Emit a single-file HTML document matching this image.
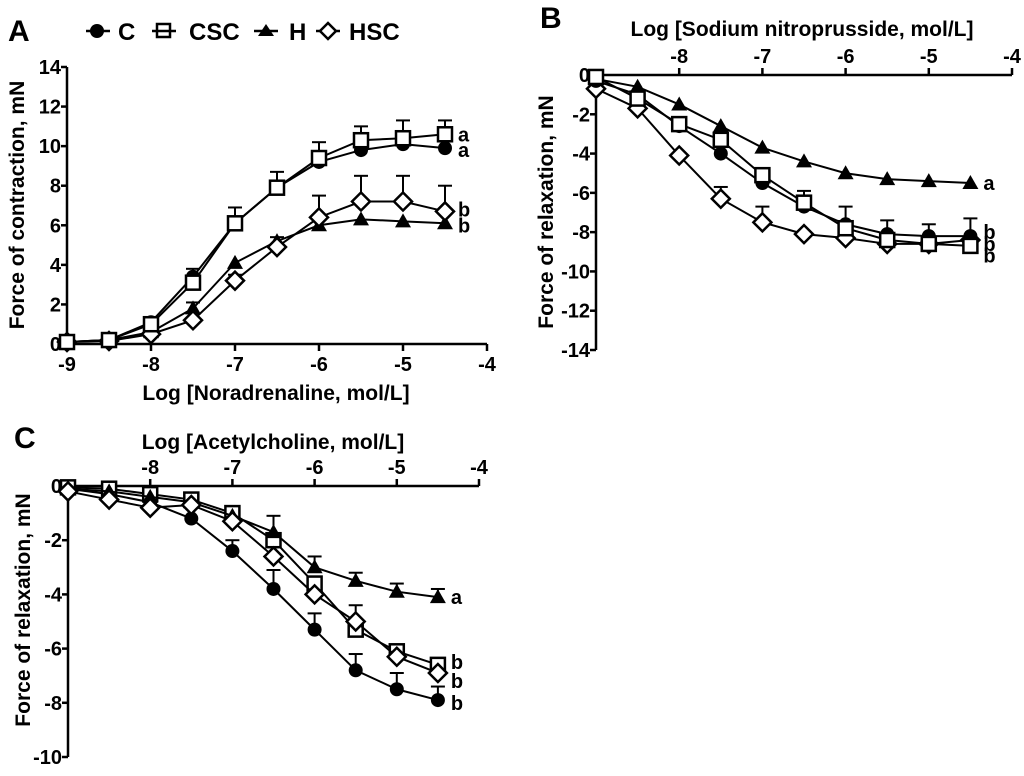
<!DOCTYPE html>
<html><head><meta charset="utf-8"><style>
body{margin:0;background:#fff;}
svg text{font-family:"Liberation Sans",Arial,sans-serif;font-weight:bold;fill:#000;}
</style></head><body>
<svg id="fig" width="1024" height="771" xmlns="http://www.w3.org/2000/svg">
<text x="8" y="41" font-size="30">A</text>
<text x="540" y="28" font-size="30">B</text>
<text x="14" y="448" font-size="30">C</text>
<g>
<line x1="86" y1="31" x2="110" y2="31" stroke="#000" stroke-width="2.5"/><circle cx="97" cy="31" r="7" fill="#000"/>
<text x="118" y="40" font-size="24">C</text>
<line x1="152" y1="31" x2="176" y2="31" stroke="#000" stroke-width="2.5"/><rect x="157" y="24" width="13" height="13" fill="none" stroke="#000" stroke-width="2.5"/>
<text x="189" y="40" font-size="24">CSC</text>
<line x1="254" y1="31" x2="278" y2="31" stroke="#000" stroke-width="2.5"/><polygon points="266,24 274,36 258,36" fill="#000"/>
<text x="289" y="40" font-size="24">H</text>
<line x1="316" y1="31" x2="340" y2="31" stroke="#000" stroke-width="2.5"/><polygon points="328,23 336,31 328,39 320,31" fill="#fff" stroke="#000" stroke-width="2.5"/>
<text x="349" y="40" font-size="24">HSC</text>
</g>
</svg>
<script>
const xs=[-9,-8.5,-8,-7.5,-7,-6.5,-6,-5.5,-5,-4.5];
const aC=[0.1,0.2,1.1,3.4,6.1,7.9,9.2,9.8,10.1,9.9];
const aCSC=[0.1,0.2,1.0,3.1,6.1,7.9,9.4,10.3,10.4,10.6];
const aH=[0.1,0.2,0.6,1.8,4.1,5.2,6.0,6.3,6.2,6.1];
const aHSC=[0.1,0.15,0.5,1.2,3.2,4.9,6.4,7.2,7.2,6.7];
const aErrCSC=[0,0,0.2,0.7,0.8,0.8,0.8,0.7,0.9,0.7];
const aErrHSC=[0,0,0.2,0.9,0.3,0.5,1.1,1.3,1.3,1.3];
const bC=[-0.3,-1.0,-2.6,-4.0,-5.5,-6.7,-7.6,-8.1,-8.2,-8.2];
const bCSC=[-0.1,-1.2,-2.5,-3.3,-5.1,-6.5,-7.8,-8.4,-8.6,-8.7];
const bH=[-0.2,-0.6,-1.5,-2.6,-3.7,-4.4,-5.0,-5.3,-5.4,-5.5];
const bHSC=[-0.7,-1.7,-4.1,-6.3,-7.5,-8.1,-8.3,-8.6,-8.6,-8.4];
const bErrC=[0,0,0,0,0,0.8,0.9,0.7,0.6,0.9];
const bErrHSC=[0,0,0,0.6,0.8,0,0,0,0,0];
const cC=[-0.1,-0.3,-0.6,-1.2,-2.4,-3.8,-5.3,-6.8,-7.5,-7.9];
const cCSC=[-0.05,-0.1,-0.3,-0.5,-1.0,-2.0,-3.6,-5.3,-6.1,-6.6];
const cH=[-0.1,-0.2,-0.4,-0.6,-1.1,-1.7,-3.0,-3.5,-3.9,-4.1];
const cHSC=[-0.2,-0.5,-0.8,-0.7,-1.3,-2.6,-4.0,-5.0,-6.3,-6.9];
const cErrC=[0,0,0,0,0.4,0.7,0.6,0.6,0.6,0.5];
const cErrH=[0,0,0,0,0,0.6,0.4,0.3,0.3,0.3];
const cErrHSC=[0,0,0,0,0,0,0,0.6,0,0];
const xTicks=[-9,-8,-7,-6,-5,-4];
const aYTicks=[0,2,4,6,8,10,12,14];
const bYTicks=[0,-2,-4,-6,-8,-10,-12,-14];
const cYTicks=[0,-2,-4,-6,-8,-10];

const NS="http://www.w3.org/2000/svg";
const svg=document.getElementById('fig');
function el(tag,attrs,parent){const e=document.createElementNS(NS,tag);for(const k in attrs)e.setAttribute(k,attrs[k]);(parent||svg).appendChild(e);return e;}

function panel(cfg){
  const g=el('g',{});
  
  
  const X=v=>cfg.x0+(v-(-9))*(cfg.x1-cfg.x0)/5;
  const Y=v=>cfg.yZero+(v-cfg.yFrom)*(cfg.yEnd-cfg.yZero)/(cfg.yTo-cfg.yFrom);
  const axY=cfg.top?Y(0):Y(cfg.yFrom);
  const xa=el('line',{x1:X(-9),y1:axY,x2:X(-4),y2:axY,stroke:'#000','stroke-width':2.5},g);
  
  const ya=el('line',{x1:X(-9),y1:Y(cfg.yFrom),x2:X(-9),y2:Y(cfg.yTo),stroke:'#000','stroke-width':2.5},g);
  
  xTicks.forEach(t=>{
    const d=cfg.top?-7:7;
    if(!(cfg.top&&t===-9)){
      el('line',{x1:X(t),y1:axY,x2:X(t),y2:axY+d,stroke:'#000','stroke-width':2.5},g);
      const tx=el('text',{x:X(t),y:cfg.top?axY-12:axY+27,'font-size':20,'text-anchor':'middle'},g);
      
      tx.textContent=t;
    }
  });
  cfg.yTicks.forEach(t=>{
    el('line',{x1:X(-9)-6,y1:Y(t),x2:X(-9),y2:Y(t),stroke:'#000','stroke-width':2.5},g);
    const tx=el('text',{x:X(-9)-6,y:Y(t)+7,'font-size':20,'text-anchor':'end'},g);
    
    tx.textContent=t;
  });
  const xt=el('text',{x:cfg.xtX,y:cfg.xtY,'font-size':21,'text-anchor':'middle'},g);
  
  xt.textContent=cfg.xTitle;
  const yt=el('text',{x:0,y:0,'font-size':21,'text-anchor':'middle',transform:`translate(${cfg.ytX},${cfg.ytY}) rotate(-90)`},g);
  
  yt.textContent=cfg.yTitle;
  cfg.series.forEach(s=>{
    const sg=el('g',{},g);
    
    
    el('polyline',{points:xs.map((x,i)=>X(x)+','+Y(s.v[i])).join(' '),fill:'none',stroke:'#000','stroke-width':2},sg);
    if(s.err){xs.forEach((x,i)=>{const e=s.err[i];if(!e)return;const y0=Y(s.v[i]),y1=Y(s.v[i]+e*cfg.errDir);
      el('line',{x1:X(x),y1:y0,x2:X(x),y2:y1,stroke:'#000','stroke-width':2},sg);
      el('line',{x1:X(x)-7,y1:y1,x2:X(x)+7,y2:y1,stroke:'#000','stroke-width':2},sg);});}
    xs.forEach((x,i)=>{const cx=X(x),cy=Y(s.v[i]);let m;
      if(s.key==='c')m=el('circle',{cx:cx,cy:cy,r:7,fill:'#000'},sg);
      else if(s.key==='csc')m=el('rect',{x:cx-7,y:cy-7,width:14,height:14,fill:'#fff',stroke:'#000','stroke-width':2.5},sg);
      else if(s.key==='h')m=el('polygon',{points:`${cx},${cy-8} ${cx+8},${cy+6} ${cx-8},${cy+6}`,fill:'#000'},sg);
      else m=el('polygon',{points:`${cx},${cy-9} ${cx+9},${cy} ${cx},${cy+9} ${cx-9},${cy}`,fill:'#fff',stroke:'#000','stroke-width':2.5},sg);
      
      
    });
  });
  cfg.letters.forEach(l=>{const t=el('text',{x:X(-4.5)+13,y:Y(l[1])+7,'font-size':20},g);
    t.textContent=l[0];});
}
panel({name:'panel-a',x0:67,x1:487,yZero:344,yEnd:67,yFrom:0,yTo:14,top:false,yTicks:aYTicks,errDir:1,
  xTitle:'Log [Noradrenaline, mol/L]',xtX:276,xtY:400,yTitle:'Force of contraction, mN',ytX:24,ytY:205,
  series:[{key:'h',v:aH},{key:'hsc',v:aHSC,err:aErrHSC},{key:'c',v:aC},{key:'csc',v:aCSC,err:aErrCSC}],
  letters:[['a',10.6],['a',9.8],['b',6.8],['b',6.0]]});
panel({name:'panel-b',x0:596,x1:1012,yZero:75,yEnd:350,yFrom:0,yTo:-14,top:true,yTicks:bYTicks,errDir:1,
  xTitle:'Log [Sodium nitroprusside, mol/L]',xtX:802,xtY:36,yTitle:'Force of relaxation, mN',ytX:553,ytY:212,
  series:[{key:'h',v:bH},{key:'hsc',v:bHSC,err:bErrHSC},{key:'c',v:bC,err:bErrC},{key:'csc',v:bCSC}],
  letters:[['a',-5.5],['b',-8.0],['b',-8.6],['b',-9.2]]});
panel({name:'panel-c',x0:68,x1:479,yZero:486,yEnd:757,yFrom:0,yTo:-10,top:true,yTicks:cYTicks,errDir:1,
  xTitle:'Log [Acetylcholine,  mol/L]',xtX:273,xtY:449,yTitle:'Force of relaxation, mN',ytX:30,ytY:610,
  series:[{key:'c',v:cC,err:cErrC},{key:'csc',v:cCSC},{key:'h',v:cH,err:cErrH},{key:'hsc',v:cHSC,err:cErrHSC}],
  letters:[['a',-4.1],['b',-6.5],['b',-7.2],['b',-8.0]]});
</script>
</body></html>
